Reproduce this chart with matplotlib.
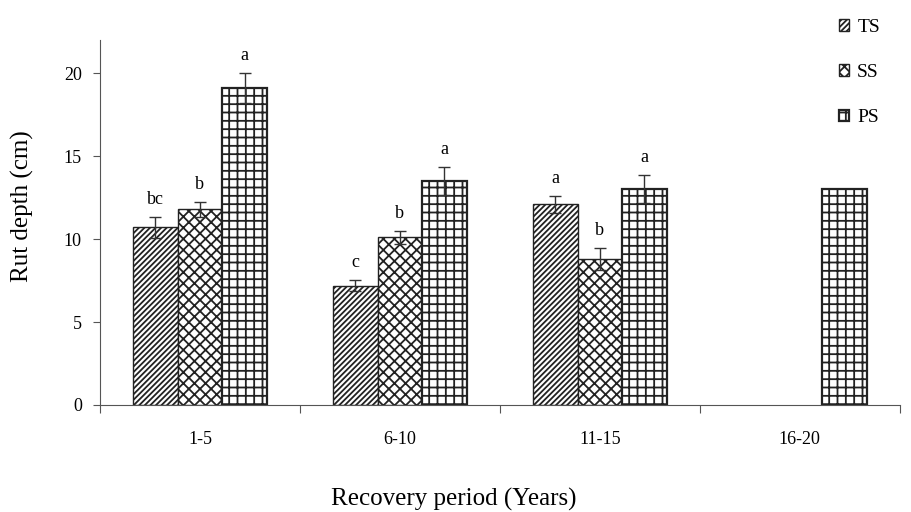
import numpy as np
import matplotlib.pyplot as plt

plt.rcParams['font.family'] = ['Liberation Serif', 'DejaVu Serif']
plt.rcParams['hatch.linewidth'] = 1.3

periods = ["1-5", "6-10", "11-15", "16-20"]
series = ["TS", "SS", "PS"]
ts_vals = [10.7, 7.2, 12.1, np.nan]
ss_vals = [11.8, 10.1, 8.8, np.nan]
ps_vals = [19.1, 13.5, 13.0, 13.0]
ts_err = [0.65, 0.35, 0.5, np.nan]
ss_err = [0.45, 0.4, 0.65, np.nan]
ps_err = [0.9, 0.85, 0.85, np.nan]
ts_letters = ["bc", "c", "a", ""]
ss_letters = ["b", "b", "b", ""]
ps_letters = ["a", "a", "a", ""]

fig = plt.figure(figsize=(9.12, 5.12), dpi=100)
ax = fig.add_axes([0.1096, 0.209, 0.877, 0.713])

x = np.arange(len(periods))
w = 0.223
hatches = ["//////", "xxx", "++"]
vals = [ts_vals, ss_vals, ps_vals]
errs = [ts_err, ss_err, ps_err]
letters = [ts_letters, ss_letters, ps_letters]
edge_w = [1.0, 1.0, 1.6]

for i in range(3):
	pos = x + (i - 1) * w
	ax.bar(pos, vals[i], width=w, color="white", edgecolor="#222222",
		hatch=hatches[i], linewidth=edge_w[i], label=series[i], zorder=2)
	ax.errorbar(pos, vals[i], yerr=errs[i], fmt="none", ecolor="#333333",
		elinewidth=1.0, capsize=4.5, capthick=1.0, zorder=3)
	for p, v, e, t in zip(pos, vals[i], errs[i], letters[i]):
		if t:
			ax.text(p, v + e + 0.55, t, ha="center", va="bottom", fontsize=13)

ax.set_xlim(-0.5, len(periods) - 0.5)
ax.set_ylim(0, 22)
ax.set_yticks([0, 5, 10, 15, 20])
ax.tick_params(axis="y", direction="out", length=5, pad=8, labelsize=13, color="#555555")

# boundary ticks on the x axis, labels centered under each group
ax.set_xticks(np.arange(len(periods) + 1) - 0.5)
ax.set_xticklabels([])
ax.set_xticks(x, minor=True)
ax.set_xticklabels(periods, minor=True)
ax.tick_params(axis="x", which="major", direction="out", length=6, color="#555555")
ax.tick_params(axis="x", which="minor", length=0, labelsize=13, pad=19)

for s in ["top", "right"]:
	ax.spines[s].set_visible(False)
for s in ["left", "bottom"]:
	ax.spines[s].set_color("#555555")

ax.set_ylabel("Rut depth (cm)", fontsize=18, va="center")
ax.yaxis.set_label_coords(-0.0975, 0.545)
ax.set_xlabel("Recovery period (Years)", fontsize=18, va="center")
ax.xaxis.set_label_coords(0.4425, -0.26)

fig.legend(loc="upper right", bbox_to_anchor=(880 / 912, 1 - 19 / 512),
	frameon=False, fontsize=14, handlelength=0.55, handleheight=0.55,
	handletextpad=0.4, labelspacing=1.45, borderpad=0, borderaxespad=0)

plt.savefig("out.png", dpi=100)
